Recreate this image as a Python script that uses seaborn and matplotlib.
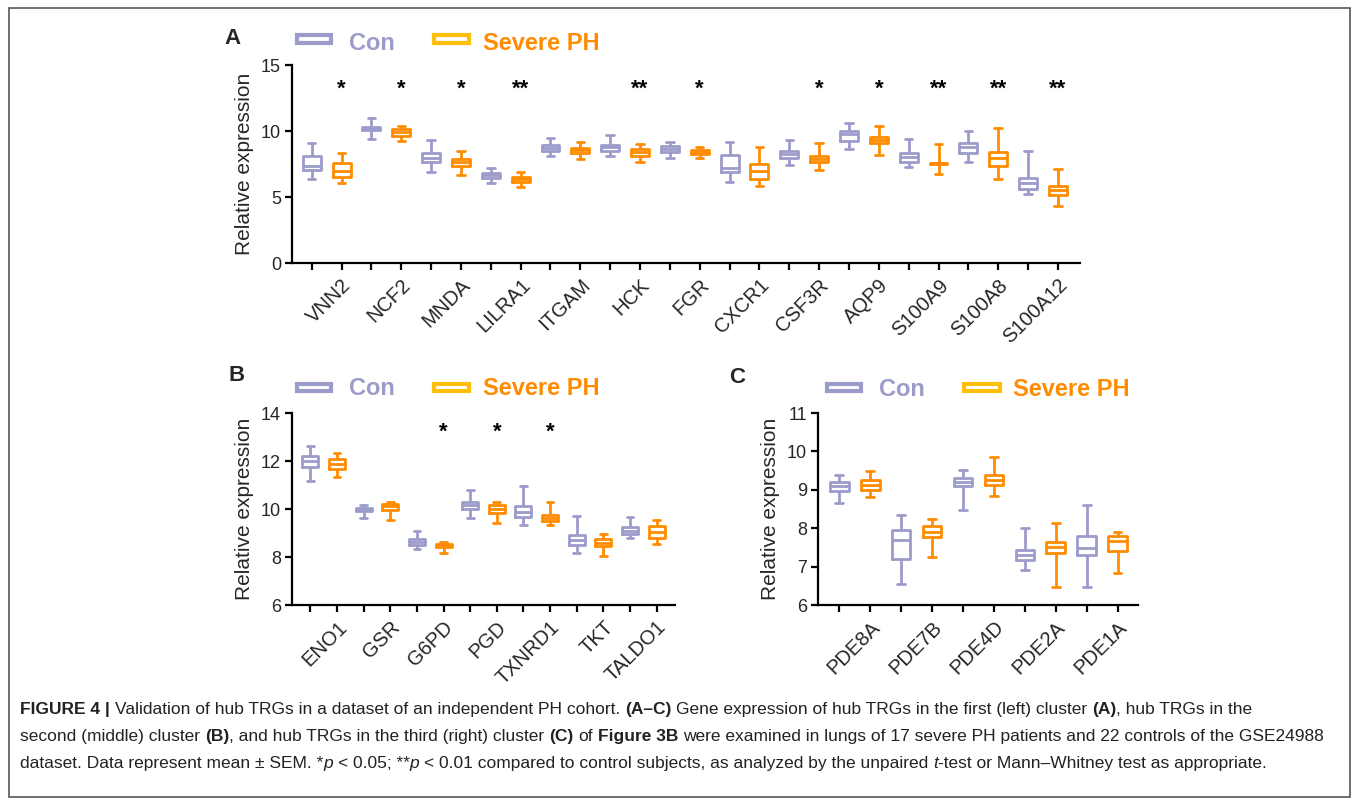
import matplotlib
matplotlib.use("Agg")
import matplotlib.pyplot as plt
from matplotlib import font_manager
from matplotlib.patches import Rectangle
import pandas as pd
import seaborn as sns

# ---------------- data (five-number summaries: min, q1, median, q3, max) ----
group_names = ["Con", "Severe PH"]

genes_a = ["VNN2", "NCF2", "MNDA", "LILRA1", "ITGAM", "HCK", "FGR", "CXCR1",
           "CSF3R", "AQP9", "S100A9", "S100A8", "S100A12"]
con_a = [[6.36, 7.08, 7.38, 8.13, 9.08],
         [9.39, 10.08, 10.20, 10.32, 10.99],
         [6.89, 7.63, 7.93, 8.31, 9.29],
         [6.09, 6.41, 6.64, 6.84, 7.20],
         [8.13, 8.51, 8.74, 8.94, 9.50],
         [8.11, 8.51, 8.76, 8.96, 9.70],
         [7.93, 8.43, 8.66, 8.86, 9.17],
         [6.16, 6.87, 7.17, 8.16, 9.19],
         [7.40, 7.93, 8.23, 8.51, 9.34],
         [8.66, 9.24, 9.77, 10.02, 10.58],
         [7.27, 7.65, 8.01, 8.36, 9.37],
         [7.68, 8.36, 8.76, 9.12, 10.02],
         [5.20, 5.63, 6.04, 6.41, 8.51]]
ph_a = [[6.09, 6.50, 7.00, 7.60, 8.32],
        [9.23, 9.64, 9.90, 10.13, 10.36],
        [6.69, 7.37, 7.62, 7.85, 8.51],
        [5.76, 6.11, 6.34, 6.54, 6.87],
        [7.88, 8.31, 8.54, 8.74, 9.19],
        [7.65, 8.13, 8.39, 8.64, 9.00],
        [7.95, 8.23, 8.41, 8.56, 8.81],
        [5.86, 6.34, 6.94, 7.50, 8.79],
        [7.05, 7.68, 7.90, 8.11, 9.09],
        [8.20, 9.07, 9.32, 9.57, 10.38],
        [6.72, 7.50, 7.55, 7.60, 9.04],
        [6.34, 7.37, 7.98, 8.38, 10.20],
        [4.32, 5.15, 5.50, 5.83, 7.10]]
sig_a = ["*", "*", "*", "**", "", "**", "*", "", "*", "*", "**", "**", "**"]

genes_b = ["ENO1", "GSR", "G6PD", "PGD", "TXNRD1", "TKT", "TALDO1"]
con_b = [[11.15, 11.76, 12.00, 12.22, 12.62],
         [9.62, 9.92, 9.99, 10.04, 10.15],
         [8.32, 8.48, 8.62, 8.76, 9.10],
         [9.63, 10.02, 10.15, 10.29, 10.80],
         [9.34, 9.67, 9.88, 10.12, 10.96],
         [8.18, 8.48, 8.71, 8.93, 9.70],
         [8.80, 8.95, 9.10, 9.25, 9.65]]
ph_b = [[11.35, 11.68, 11.88, 12.07, 12.33],
        [9.53, 9.95, 10.12, 10.19, 10.29],
        [8.17, 8.41, 8.48, 8.55, 8.62],
        [9.43, 9.85, 9.99, 10.18, 10.29],
        [9.35, 9.50, 9.64, 9.73, 10.29],
        [8.05, 8.45, 8.60, 8.75, 8.95],
        [8.55, 8.80, 9.05, 9.30, 9.55]]
sig_b = ["", "", "*", "*", "*", "", ""]

genes_c = ["PDE8A", "PDE7B", "PDE4D", "PDE2A", "PDE1A"]
con_c = [[8.65, 8.96, 9.10, 9.20, 9.38],
         [6.54, 7.20, 7.70, 7.96, 8.35],
         [8.47, 9.10, 9.20, 9.32, 9.51],
         [6.92, 7.16, 7.29, 7.44, 8.00],
         [6.46, 7.31, 7.48, 7.80, 8.60]]
ph_c = [[8.82, 8.99, 9.12, 9.25, 9.49],
        [7.25, 7.76, 7.90, 8.05, 8.25],
        [8.85, 9.12, 9.25, 9.38, 9.85],
        [6.47, 7.35, 7.52, 7.65, 8.13],
        [6.84, 7.41, 7.67, 7.80, 7.91]]
sig_c = ["", "", "", "", ""]

ylabel_text = "Relative expression"

caption_lines = [
    [("FIGURE 4 |", "b"), (" Validation of hub TRGs in a dataset of an independent PH cohort. ", "r"),
     ("(A–C)", "b"), (" Gene expression of hub TRGs in the first (left) cluster ", "r"),
     ("(A)", "b"), (", hub TRGs in the", "r")],
    [("second (middle) cluster ", "r"), ("(B)", "b"),
     (", and hub TRGs in the third (right) cluster ", "r"), ("(C)", "b"), (" of ", "r"),
     ("Figure 3B", "b"),
     (" were examined in lungs of 17 severe PH patients and 22 controls of the GSE24988", "r")],
    [("dataset. Data represent mean ± SEM. *", "r"), ("p", "i"), (" < 0.05; **", "r"), ("p", "i"),
     (" < 0.01 compared to control subjects, as analyzed by the unpaired ", "r"), ("t", "i"),
     ("-test or Mann–Whitney test as appropriate.", "r")],
]

# ---------------- style ------------------------------------------------------
sns.set_style("ticks")
names = {f.name for f in font_manager.fontManager.ttflist}
base_font = "Liberation Sans" if "Liberation Sans" in names else "DejaVu Sans"
cap_font = "Liberation Sans Narrow" if "Liberation Sans Narrow" in names else base_font
plt.rcParams["font.family"] = [base_font, "DejaVu Sans"]

CON = "#9C9CCB"
PH = "#FF8C00"
PH_LEG = "#FFBE0A"

W, H = 1355, 800
fig = plt.figure(figsize=(W / 100, H / 100), dpi=100)


def ax_px(left, right, top, bottom):
    return fig.add_axes([left / W, 1 - bottom / H, (right - left) / W, (bottom - top) / H])


def long_df(genes, con, ph):
    rows = []
    for i in range(len(genes)):
        for grp, stats, slot in ((group_names[0], con[i], 2 * i),
                                 (group_names[1], ph[i], 2 * i + 1)):
            for v in stats:
                rows.append({"slot": str(slot), "group": grp, "value": v})
    return pd.DataFrame(rows)


def panel(ax, genes, con, ph, ylim, yticks, xlim, sig, star_base):
    df = long_df(genes, con, ph)
    order = [str(k) for k in range(2 * len(genes))]
    sns.boxplot(data=df, x="slot", y="value", hue="group", order=order,
                hue_order=group_names, palette={group_names[0]: CON, group_names[1]: PH},
                saturation=1, fill=False, dodge=False, width=0.6, whis=(0, 100),
                linewidth=2.0, capwidths=0.25, legend=False, ax=ax)
    ax.set_ylim(*ylim)
    ax.set_yticks(yticks)
    ax.set_xlim(*xlim)
    labels = []
    for g in genes:
        labels += ["", g]
    ax.set_xticks(range(len(order)))
    ax.set_xticklabels(labels, rotation=45, ha="right", rotation_mode="anchor", fontsize=14.5)
    ax.set_xlabel("")
    ax.set_ylabel(ylabel_text, fontsize=15, labelpad=5)
    for s in ["top", "right"]:
        ax.spines[s].set_visible(False)
    for s in ["left", "bottom"]:
        ax.spines[s].set_linewidth(1.6)
        ax.spines[s].set_color("black")
    ax.tick_params(axis="both", direction="out", length=5, width=1.6, color="black")
    ax.tick_params(axis="y", labelsize=13, pad=3)
    ax.tick_params(axis="x", pad=4)
    for i, s in enumerate(sig):
        if s:
            ax.text(2 * i + 1, star_base, s, ha="center", va="baseline",
                    fontsize=16, fontweight="bold", color="black")


axA = ax_px(292, 1080, 65, 263)
panel(axA, genes_a, con_a, ph_a, (0, 15), [0, 5, 10, 15], (-0.66, 25.74), sig_a, 12.77)
axB = ax_px(292, 675, 413, 605)
panel(axB, genes_b, con_b, ph_b, (6, 14), [6, 8, 10, 12, 14], (-0.69, 13.69), sig_b, 12.97)
axC = ax_px(818, 1138, 413, 605)
panel(axC, genes_c, con_c, ph_c, (6, 11), [6, 7, 8, 9, 10, 11], (-0.69, 9.66), sig_c, 11)

# ---------------- overlay in pixel coordinates --------------------------------
ov = fig.add_axes([0, 0, 1, 1], zorder=5)
ov.set_xlim(0, W)
ov.set_ylim(H, 0)
ov.axis("off")

ov.add_patch(Rectangle((9, 8), 1341, 789, fill=False, edgecolor="#555555", lw=1.2))


def legend(y0, y1, icon1, tx1, icon2, tx2, base):
    ov.add_patch(Rectangle((icon1[0], y0), icon1[1] - icon1[0], y1 - y0, fill=False,
                           edgecolor=CON, lw=3.0))
    ov.text(tx1, base, group_names[0], color=CON, fontsize=17, fontweight="bold",
            ha="left", va="baseline")
    ov.add_patch(Rectangle((icon2[0], y0), icon2[1] - icon2[0], y1 - y0, fill=False,
                           edgecolor=PH_LEG, lw=3.0))
    ov.text(tx2, base, group_names[1], color=PH, fontsize=17, fontweight="bold",
            ha="left", va="baseline")


legend(35, 43, (297, 331), 349, (434, 469), 483, 50)
legend(383.5, 390.5, (297, 331), 349, (434, 469), 483, 395)
legend(383.5, 390.5, (827, 861), 879, (964, 1000), 1013, 396)

for letter, x, y in (("A", 224, 44), ("B", 228, 381), ("C", 729, 383)):
    ov.text(x, y, letter, fontsize=16, fontweight="bold", ha="left", va="baseline")

# caption with mixed styles
fig.canvas.draw()
renderer = fig.canvas.get_renderer()
styles = {"r": {}, "b": {"fontweight": "bold"}, "i": {"fontstyle": "italic"}}


def measure(s, fs, st):
    t = ov.text(0, 0, s, fontsize=fs, family=cap_font, **styles[st])
    w = t.get_window_extent(renderer).width
    t.remove()
    return w


def line_width(line, fs):
    total = 0
    for seg, st in line:
        sp = measure("a a", fs, st) - measure("aa", fs, st)
        lead = len(seg) - len(seg.lstrip(" "))
        trail = len(seg) - len(seg.rstrip(" "))
        total += (lead + trail) * sp + measure(seg.strip(" "), fs, st)
    return total


fs0 = 12
cap_fs = min(12.5, fs0 * 1300 / line_width(caption_lines[2], fs0))

for line, base in zip(caption_lines, (714, 741, 768)):
    x = 20
    for seg, st in line:
        sp = measure("a a", cap_fs, st) - measure("aa", cap_fs, st)
        lead = len(seg) - len(seg.lstrip(" "))
        trail = len(seg) - len(seg.rstrip(" "))
        x += lead * sp
        core = seg.strip(" ")
        ov.text(x, base, core, fontsize=cap_fs, family=cap_font, ha="left", va="baseline",
                color="#222222", **styles[st])
        x += measure(core, cap_fs, st) + trail * sp

fig.savefig("out.png", dpi=100)
